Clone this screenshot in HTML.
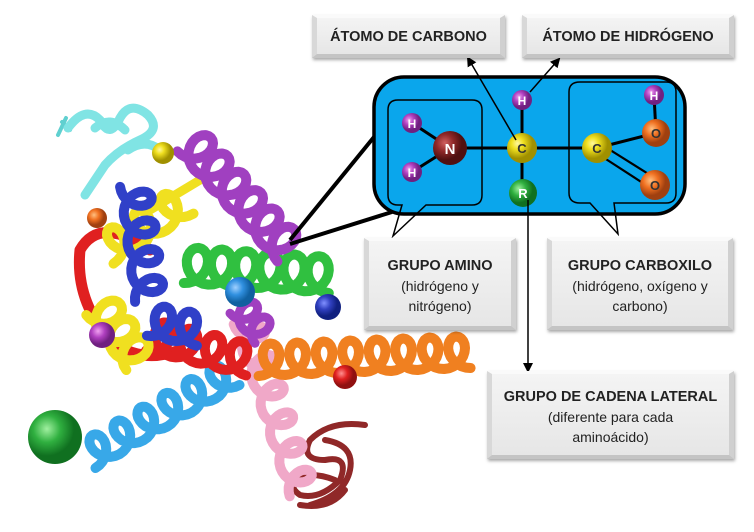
<!DOCTYPE html>
<html><head><meta charset="utf-8">
<style>
html,body{margin:0;padding:0;background:#fff;width:754px;height:532px;overflow:hidden}
.b{position:absolute;box-sizing:border-box;background:linear-gradient(180deg,#f4f4f4,#e6e6e6);border-top:3px solid #fafafa;border-left:5px solid #d8d8d8;border-right:5px solid #d0d0d0;border-bottom:4px solid #c4c4c4;box-shadow:1px 2px 3px rgba(0,0,0,.35);font-family:"Liberation Sans",sans-serif;color:#222;text-align:center;font-size:14px;line-height:20px}
.b b{font-size:14.5px}
</style></head><body>
<svg id="s" width="754" height="532" style="position:absolute;left:0;top:0">
<defs>
<marker id="ar" markerWidth="10" markerHeight="10" refX="8" refY="5" orient="auto" markerUnits="userSpaceOnUse"><path d="M0,0 L10,5 L0,10 z" fill="#000"/></marker>
<radialGradient id="gY" cx="35%" cy="35%"><stop offset="0" stop-color="#fff8a0"/><stop offset=".4" stop-color="#f0e020"/><stop offset="1" stop-color="#a09000"/></radialGradient>
<radialGradient id="gP" cx="35%" cy="35%"><stop offset="0" stop-color="#f0a0f0"/><stop offset=".5" stop-color="#b040c0"/><stop offset="1" stop-color="#702080"/></radialGradient>
<radialGradient id="gN" cx="35%" cy="35%"><stop offset="0" stop-color="#d06060"/><stop offset=".5" stop-color="#902828"/><stop offset="1" stop-color="#501010"/></radialGradient>
<radialGradient id="gO" cx="35%" cy="35%"><stop offset="0" stop-color="#ffc080"/><stop offset=".5" stop-color="#f07020"/><stop offset="1" stop-color="#a04010"/></radialGradient>
<radialGradient id="gG" cx="35%" cy="35%"><stop offset="0" stop-color="#a0f0a0"/><stop offset=".5" stop-color="#30b040"/><stop offset="1" stop-color="#107020"/></radialGradient>
<radialGradient id="gB" cx="35%" cy="35%"><stop offset="0" stop-color="#a0d0ff"/><stop offset=".5" stop-color="#3090e0"/><stop offset="1" stop-color="#1060a0"/></radialGradient>
<radialGradient id="gD" cx="35%" cy="35%"><stop offset="0" stop-color="#8090ff"/><stop offset=".5" stop-color="#3040c0"/><stop offset="1" stop-color="#102080"/></radialGradient>
<radialGradient id="gR" cx="35%" cy="35%"><stop offset="0" stop-color="#ff9090"/><stop offset=".5" stop-color="#e02020"/><stop offset="1" stop-color="#901010"/></radialGradient>
</defs>
<g id="prot" fill="none" stroke-linecap="round" stroke-linejoin="round"></g>
<line x1="374" y1="137" x2="290" y2="240" stroke="#000" stroke-width="4"/>
<line x1="392" y1="212" x2="290" y2="244" stroke="#000" stroke-width="4"/>
<rect x="374" y="77" width="311" height="137" rx="30" fill="#0aa6ec" stroke="#000" stroke-width="3.5"/>
<path d="M398,100 H472 Q482,100 482,110 V195 Q482,205 472,205 H426 L393,236 L402,205 H398 Q388,205 388,195 V110 Q388,100 398,100 Z" fill="none" stroke="#000" stroke-width="1.5"/>
<path d="M580,82 H666 Q676,82 676,92 V193 Q676,203 666,203 H614 L618,234 L590,203 H580 Q569,203 569,193 V92 Q569,82 580,82 Z" fill="none" stroke="#000" stroke-width="1.5"/>
<g stroke="#000" stroke-width="3">
<line x1="412" y1="123" x2="450" y2="148"/><line x1="412" y1="172" x2="450" y2="148"/>
<line x1="450" y1="148" x2="597" y2="148"/><line x1="522" y1="100" x2="522" y2="193"/>
<line x1="597" y1="148" x2="656" y2="133"/><line x1="654" y1="95" x2="656" y2="133"/>
</g>
<g stroke="#000" stroke-width="2.2">
<line x1="599" y1="143" x2="658" y2="180"/><line x1="595" y1="152" x2="652" y2="189"/>
</g>
<g font-family="Liberation Sans,sans-serif" font-weight="bold" text-anchor="middle" fill="#fff">
<circle cx="412" cy="123" r="10" fill="url(#gP)"/><text x="412" y="128" font-size="12">H</text>
<circle cx="412" cy="172" r="10" fill="url(#gP)"/><text x="412" y="177" font-size="12">H</text>
<circle cx="450" cy="148" r="17" fill="url(#gN)"/><text x="450" y="154" font-size="15">N</text>
<circle cx="522" cy="100" r="10" fill="url(#gP)"/><text x="522" y="105" font-size="12">H</text>
<circle cx="522" cy="148" r="15" fill="url(#gY)"/><text x="522" y="153" font-size="13" fill="#333">C</text>
<circle cx="523" cy="193" r="14" fill="url(#gG)"/><text x="523" y="198" font-size="13">R</text>
<circle cx="597" cy="148" r="15" fill="url(#gY)"/><text x="597" y="153" font-size="13" fill="#333">C</text>
<circle cx="654" cy="95" r="10" fill="url(#gP)"/><text x="654" y="100" font-size="12">H</text>
<circle cx="656" cy="133" r="14" fill="url(#gO)"/><text x="656" y="138" font-size="13" fill="#333">O</text>
<circle cx="655" cy="185" r="15" fill="url(#gO)"/><text x="655" y="190" font-size="13" fill="#333">O</text>
</g>
<line x1="516" y1="140" x2="468" y2="58" stroke="#000" stroke-width="1.5" marker-end="url(#ar)"/>
<line x1="530" y1="92" x2="559" y2="59" stroke="#000" stroke-width="1.5" marker-end="url(#ar)"/>
<line x1="528" y1="200" x2="528" y2="371" stroke="#000" stroke-width="1.5" marker-end="url(#ar)"/>
</svg>
<div class="b" style="left:312px;top:15px;width:193px;height:43px;line-height:36px"><b>ÁTOMO DE CARBONO</b></div>
<div class="b" style="left:522px;top:15px;width:212px;height:43px;line-height:36px"><b>ÁTOMO DE HIDRÓGENO</b></div>
<div class="b" style="left:364px;top:238px;width:152px;height:92px;padding-top:14px"><b>GRUPO AMINO</b><br>(hidrógeno y<br>nitrógeno)</div>
<div class="b" style="left:547px;top:238px;width:186px;height:92px;padding-top:14px"><b>GRUPO CARBOXILO</b><br>(hidrógeno, oxígeno y<br>carbono)</div>
<div class="b" style="left:487px;top:371px;width:247px;height:88px;padding-top:12px"><b>GRUPO DE CADENA LATERAL</b><br>(diferente para cada<br>aminoácido)</div>
<script>
var g=document.getElementById('prot');var NS='http://www.w3.org/2000/svg';
function P(d,c,w){var p=document.createElementNS(NS,'path');p.setAttribute('d',d);p.setAttribute('stroke',c);p.setAttribute('stroke-width',w||8);g.appendChild(p);}
function H(x1,y1,x2,y2,n,r,c,w){var dx=x2-x1,dy=y2-y1,L=Math.hypot(dx,dy),ux=dx/L,uy=dy/L,px=-uy,py=ux,d='';
for(var i=0;i<=n*24;i++){var t=i/(n*24),th=2*Math.PI*n*t;var a=r*0.9*Math.sin(th),b=r*Math.cos(th);
var x=x1+dx*t+ux*a+px*b,y=y1+dy*t+uy*a+py*b;d+=(i?'L':'M')+x.toFixed(1)+','+y.toFixed(1);}P(d,c,w);}
function B(x,y,r,f){var c=document.createElementNS(NS,'circle');c.setAttribute('cx',x);c.setAttribute('cy',y);c.setAttribute('r',r);c.setAttribute('fill',f);document.getElementById('s').insertBefore(c,g.nextSibling);}
P('M62,122 L70,130 M66,118 L58,135','#60d0d0',4);
P('M68,128 Q85,105 100,120 Q110,140 120,118 Q130,100 148,115 Q162,130 140,140 Q118,150 105,165 Q95,180 85,195 M128,150 Q145,138 160,150 M95,128 Q110,115 125,130','#80e4e4',9);
P('M365,425 Q330,420 310,440 Q300,460 325,460 Q350,455 340,480 Q320,500 300,495 Q285,485 300,470 M325,440 Q355,445 350,470 Q345,495 310,505 M300,505 Q330,510 345,490 M290,480 Q310,470 335,480','#902828',6);
H(88,455,232,372,6,15,'#38a8e8',10);
H(247,320,303,492,6,14,'#f0a8c8',10);
H(258,360,470,352,8,16,'#f08020',10);
H(185,265,330,275,6,18,'#30c040',10);
P('M150,250 Q100,215 80,250 Q75,300 110,340 Q140,365 180,350','#e02020',11);
H(150,335,250,360,4,16,'#e02020',10);
H(105,250,185,200,3,16,'#f0e020',10);
H(100,305,140,360,3,17,'#f0e020',10);
P('M150,210 Q175,195 200,180','#f0e020',9);
H(135,185,150,300,4,15,'#3040c8',10);
H(150,320,200,330,2,16,'#3040c8',10);
H(190,140,290,250,6,17,'#a040c0',10);
H(240,305,265,335,2,13,'#a040c0',9);
B(55,437,27,'url(#gG)');B(163,153,11,'url(#gY)');B(97,218,10,'url(#gO)');B(240,292,15,'url(#gB)');B(328,307,13,'url(#gD)');B(102,335,13,'url(#gP)');B(345,377,12,'url(#gR)');
</script>
</body></html>
